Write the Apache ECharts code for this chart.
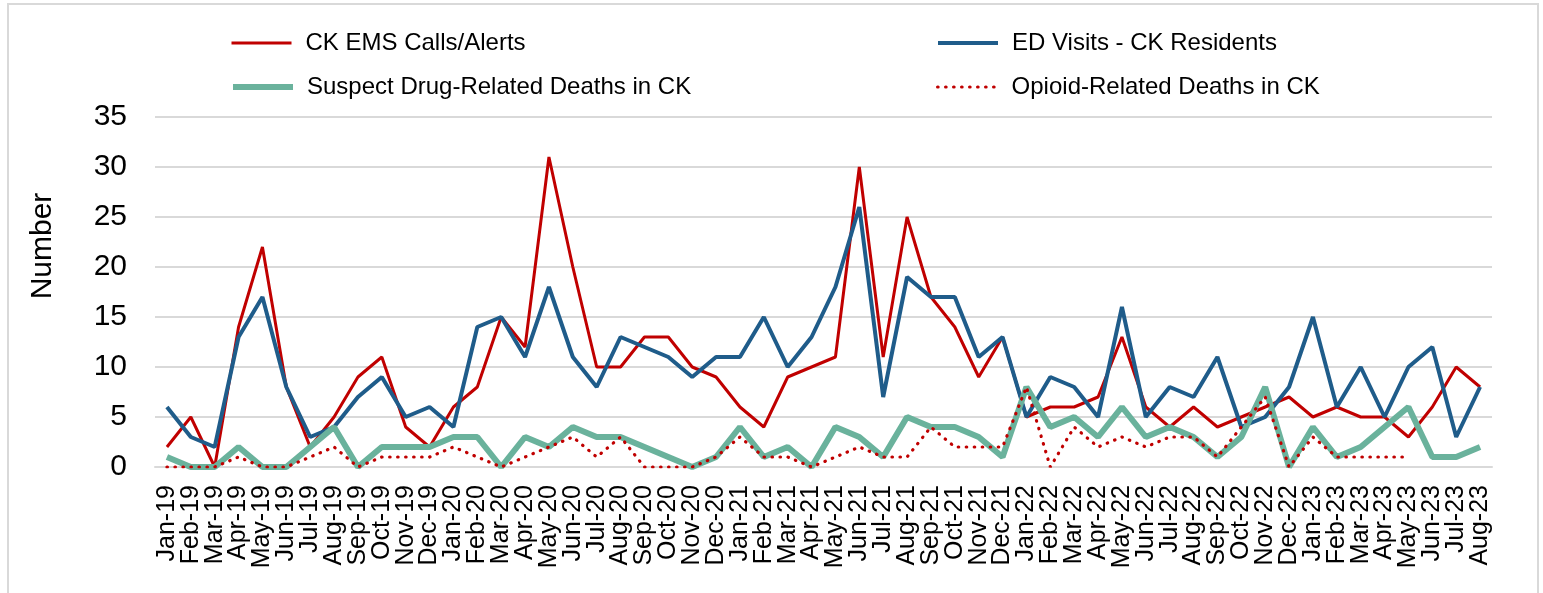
<!DOCTYPE html>
<html>
<head>
<meta charset="utf-8">
<script src="https://cdn.jsdelivr.net/npm/echarts@6/dist/echarts.min.js"></script>
<style>
  html, body { margin: 0; padding: 0; background: #fff; }
  #chart { width: 1543px; height: 593px; }
</style>
</head>
<body>
<div id="chart"></div>
<script>
// month labels on the x axis
const months = [
  'Jan-19','Feb-19','Mar-19','Apr-19','May-19','Jun-19','Jul-19','Aug-19','Sep-19','Oct-19','Nov-19','Dec-19',
  'Jan-20','Feb-20','Mar-20','Apr-20','May-20','Jun-20','Jul-20','Aug-20','Sep-20','Oct-20','Nov-20','Dec-20',
  'Jan-21','Feb-21','Mar-21','Apr-21','May-21','Jun-21','Jul-21','Aug-21','Sep-21','Oct-21','Nov-21','Dec-21',
  'Jan-22','Feb-22','Mar-22','Apr-22','May-22','Jun-22','Jul-22','Aug-22','Sep-22','Oct-22','Nov-22','Dec-22',
  'Jan-23','Feb-23','Mar-23','Apr-23','May-23','Jun-23','Jul-23','Aug-23'
];

// series values
const emsCalls = [2,5,0,14,22,8,2,5,9,11,4,2, 6,8,15,12,31,20,10,10,13,13,10,9,
  6,4,9,10,11,30,11,25,17,14,9,13, 5,6,6,7,13,6,4,6,4,5,6,7, 5,6,5,5,3,6,10,8];
const edVisits = [6,3,2,13,17,8,3,4,7,9,5,6, 4,14,15,11,18,11,8,13,12,11,9,11,
  11,15,10,13,18,26,7,19,17,17,11,13, 5,9,8,5,16,5,8,7,11,4,5,8, 15,6,10,5,10,12,3,8];
const suspectDeaths = [1,0,0,2,0,0,2,4,0,2,2,2, 3,3,0,3,2,4,3,3,2,1,0,1,
  4,1,2,0,4,3,1,5,4,4,3,1, 8,4,5,3,6,3,4,3,1,3,8,0, 4,1,2,4,6,1,1,2];
const opioidDeaths = [0,0,0,1,0,0,1,2,0,1,1,1, 2,1,0,1,2,3,1,3,0,0,0,1,
  3,1,1,0,1,2,1,1,4,2,2,2, 8,0,4,2,3,2,3,3,1,4,7,0, 3,1,1,1,1,null,null,null];

// y axis ticks
const yTicks = [0, 5, 10, 15, 20, 25, 30, 35];

const font = 'Liberation Sans, Arial, sans-serif';
const RED = '#C00000', BLUE = '#1F5C8A', GREEN = '#6AB29C';
const dots = [0.5, 7.5];

const chart = echarts.init(document.getElementById('chart'));

// one legend per item so the two columns line up like the original
// (itemStyle opacity 0 hides the marker dot, only the line stays)
const legendAt = (name, lineStyle, left, top) => ({
  data: [{ name: name, lineStyle: lineStyle, itemStyle: { opacity: 0 } }],
  left: left,
  top: top,
  padding: 0,
  itemWidth: 60,
  itemHeight: 14,
  textStyle: { fontFamily: font, fontSize: 24, color: '#000', padding: [0, 0, 0, 9] }
});

const option = {
  backgroundColor: '#fff',
  animation: false,
  graphic: [
    {
      type: 'rect',
      shape: { x: 8, y: 4, width: 1530, height: 600 },
      style: { fill: 'none', stroke: '#d9d9d9', lineWidth: 2 },
      silent: true
    },
    {
      // y axis title sits above the middle of the axis in the original
      type: 'text',
      x: 43, y: 246,
      rotation: Math.PI / 2,
      style: { text: 'Number', fontFamily: font, fontSize: 30, fill: '#000', align: 'center', verticalAlign: 'middle' },
      silent: true
    }
  ],
  legend: [
    legendAt('CK EMS Calls/Alerts', { width: 3 }, 230, 31),
    legendAt('ED Visits - CK Residents', { width: 4 }, 936, 31),
    legendAt('Suspect Drug-Related Deaths in CK', { width: 6 }, 230, 75),
    legendAt('Opioid-Related Deaths in CK', { width: 3.2, type: dots, cap: 'round' }, 936, 75)
  ],
  grid: { left: 155, right: 51, top: 117, bottom: 126 },
  xAxis: {
    type: 'category',
    data: months,
    boundaryGap: true,
    axisLine: { lineStyle: { color: '#d9d9d9', width: 2 } },
    axisTick: { show: false },
    axisLabel: { interval: 0, rotate: 90, fontFamily: font, fontSize: 25, color: '#000', margin: 18 }
  },
  yAxis: {
    type: 'value',
    min: yTicks[0],
    max: yTicks[yTicks.length - 1],
    interval: 5,
    axisLine: { show: false },
    axisTick: { show: false },
    axisLabel: { fontFamily: font, fontSize: 30, color: '#000', margin: 28 },
    splitLine: { lineStyle: { color: '#d9d9d9', width: 2 } }
  },
  series: [
    {
      name: 'CK EMS Calls/Alerts', type: 'line', data: emsCalls, symbol: 'none',
      itemStyle: { color: RED },
      lineStyle: { color: RED, width: 3 }
    },
    {
      name: 'ED Visits - CK Residents', type: 'line', data: edVisits, symbol: 'none',
      itemStyle: { color: BLUE },
      lineStyle: { color: BLUE, width: 4 }
    },
    {
      name: 'Suspect Drug-Related Deaths in CK', type: 'line', data: suspectDeaths, symbol: 'none',
      itemStyle: { color: GREEN },
      lineStyle: { color: GREEN, width: 6 }
    },
    {
      name: 'Opioid-Related Deaths in CK', type: 'line', data: opioidDeaths, symbol: 'none',
      itemStyle: { color: RED },
      lineStyle: { color: RED, width: 3.2, type: dots, cap: 'round' }
    }
  ]
};

option && chart.setOption(option);
</script>
</body>
</html>
